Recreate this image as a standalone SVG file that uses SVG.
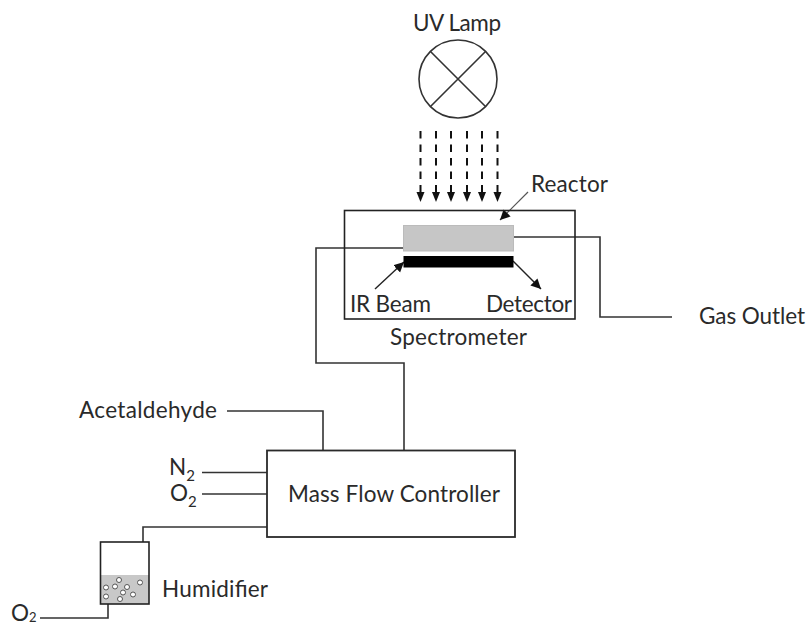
<svg xmlns="http://www.w3.org/2000/svg" width="808" height="626" viewBox="0 0 808 626">
<style>
text{font-family:Lato,"Open Sans",sans-serif;font-size:22.500px;fill:#2a2a2a}
.l{fill:none;stroke:#333;stroke-width:1.6}
.b{fill:#fff;stroke:#2a2a2a;stroke-width:1.8}
.d{stroke:#111;stroke-width:2;stroke-dasharray:7.5 6;fill:none}
.bub{fill:#fff;stroke:#555;stroke-width:1}
.s{font-size:15px}
.t{font-size:13px}
</style>
<defs>
<marker id="a" markerUnits="userSpaceOnUse" markerWidth="12" markerHeight="12" refX="10" refY="5" orient="auto"><path d="M0 0L10 5L0 10Z" fill="#111"/></marker>
</defs>
<rect width="808" height="626" fill="#fff"/>
<g id="connectors">
<path class="l" d="M403 248H316V363H404V450"/>
<path class="l" d="M513 237H600V317H672"/>
<path class="l" d="M227 411H323V450"/>
<path class="l" d="M202 472.5H267"/>
<path class="l" d="M202 494H267"/>
<path class="l" d="M267 527H143V542"/>
<path class="l" d="M40 618H108V604"/>
<path d="M528 192L500 220" fill="none" stroke="#555" stroke-width="1.2" marker-end="url(#a)"/>
<path d="M375 289L404 262" fill="none" stroke="#222" stroke-width="1.4" marker-end="url(#a)"/>
<path d="M513 261L541 289" fill="none" stroke="#222" stroke-width="1.4" marker-end="url(#a)"/>
<g id="uv-rays">
<path class="d" d="M420.5 131V193"/><path class="d" d="M436 131V193"/><path class="d" d="M451 131V193"/><path class="d" d="M467 131V193"/><path class="d" d="M482 131V193"/><path class="d" d="M497.5 131V193"/>
<path d="M416.500 192H424.500L420.500 202Z" fill="#111"/><path d="M432 192H440L436 202Z" fill="#111"/><path d="M447 192H455L451 202Z" fill="#111"/><path d="M463 192H471L467 202Z" fill="#111"/><path d="M478 192H486L482 202Z" fill="#111"/><path d="M493.500 192H501.500L497.500 202Z" fill="#111"/>
</g>
</g>
<g id="uv-lamp">
<circle cx="458" cy="79" r="39" fill="#fff" stroke="#333" stroke-width="1.6"/>
<path d="M430.500 51.500L485.500 106.500M485.500 51.500L430.500 106.500" stroke="#333" stroke-width="1.6" fill="none"/>
<text x="413" y="31" textLength="88">UV Lamp</text>
</g>
<g id="spectrometer">
<rect x="344.500" y="210.500" width="230.500" height="108.500" fill="none" stroke="#222" stroke-width="1.6"/>
<text x="390" y="345" textLength="137">Spectrometer</text>
<text x="350" y="311.500" textLength="81">IR Beam</text>
<text x="486" y="311.500" textLength="86">Detector</text>
</g>
<g id="reactor">
<rect x="403.500" y="225.500" width="110" height="25.500" fill="#c6c6c6" stroke="#bbb" stroke-width="1"/>
<rect x="403.500" y="256" width="110" height="11.500" fill="#000"/>
<text x="531" y="192" textLength="77">Reactor</text>
</g>
<g id="gas-outlet"><text x="699" y="324" textLength="106">Gas Outlet</text></g>
<g id="acetaldehyde"><text x="79" y="418" textLength="138">Acetaldehyde</text></g>
<g id="n2"><text x="169" y="475">N<tspan class="s" dy="6">2</tspan></text></g>
<g id="o2-a"><text x="170" y="501">O<tspan class="s" dy="6">2</tspan></text></g>
<g id="mass-flow-controller">
<rect class="b" x="267" y="450.500" width="248" height="86.500"/>
<text x="288" y="502" textLength="212">Mass Flow Controller</text>
</g>
<g id="humidifier">
<rect x="100.500" y="575" width="48.500" height="29" fill="#c8c8c8"/>
<rect x="100.500" y="542" width="48.500" height="62" fill="none" stroke="#222" stroke-width="1.600"/>
<circle class="bub" cx="106" cy="587.500" r="2.500"/><circle class="bub" cx="106" cy="596.500" r="2.500"/><circle class="bub" cx="115" cy="586.500" r="2.500"/><circle class="bub" cx="119" cy="580" r="2.500"/><circle class="bub" cx="127" cy="587" r="2.500"/><circle class="bub" cx="123" cy="592.500" r="2.500"/><circle class="bub" cx="120" cy="599" r="2.500"/><circle class="bub" cx="133" cy="594.500" r="2.500"/><circle class="bub" cx="140" cy="582.500" r="2.500"/>
<text x="162" y="597" textLength="106">Humidifier</text>
</g>
<g id="o2-b"><text x="11" y="621">O<tspan class="t" dy="1">2</tspan></text></g>
</svg>
